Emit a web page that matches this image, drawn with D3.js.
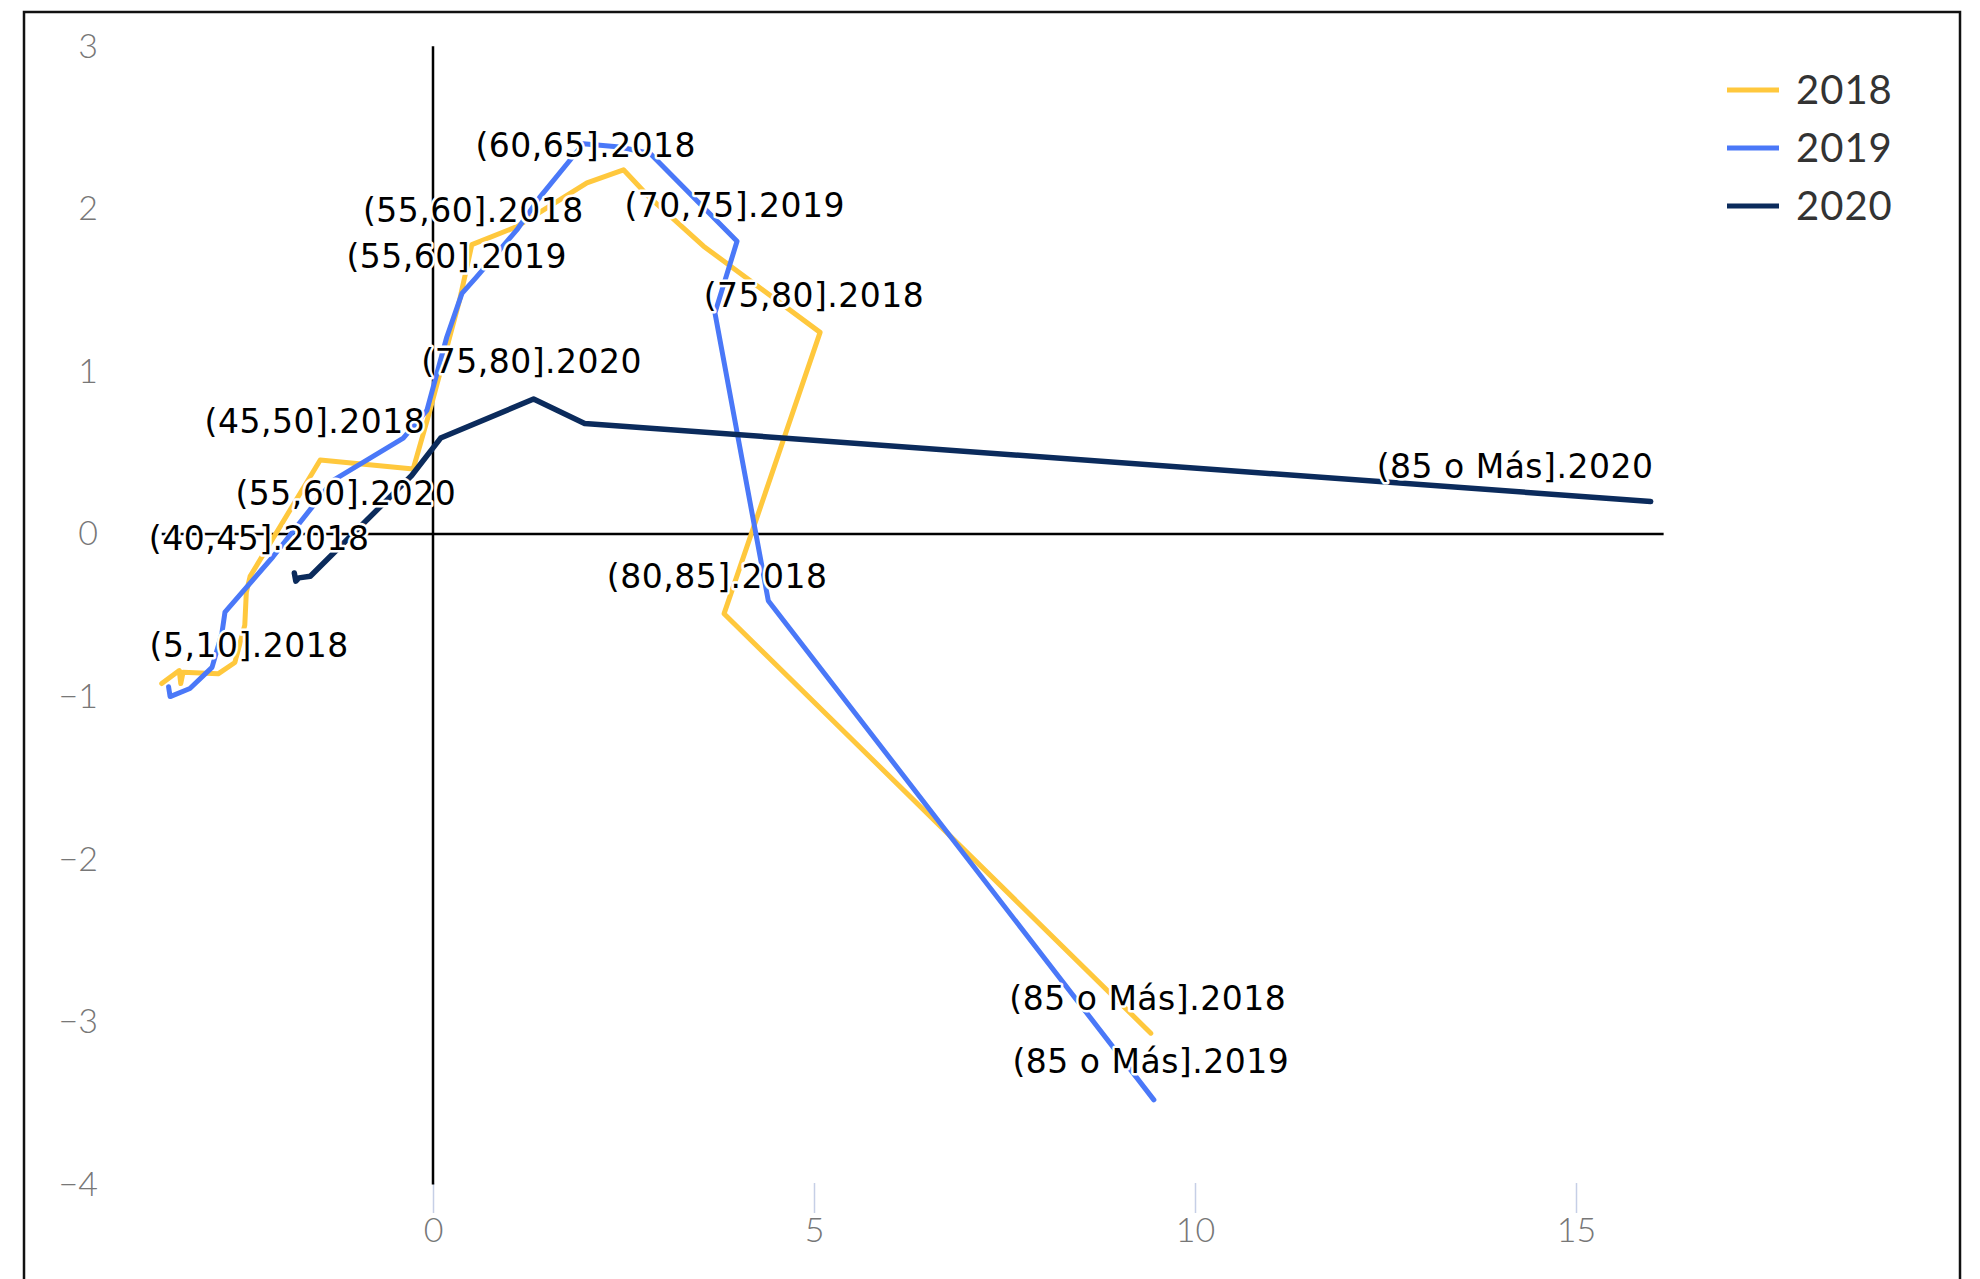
<!DOCTYPE html>
<html>
<head>
<meta charset="utf-8">
<script src="https://cdn.jsdelivr.net/npm/d3@7"></script>
<style>
	body { margin: 0; background: #fff; }
</style>
</head>
<body>
<div id="chart"></div>
<script>

// 系列
var years = ["2018", "2019", "2020"];
var colors = ["#ffc83d", "#4a78f8", "#0b2b5c"];

// 各年の折れ線の頂点 (x, y)
var x2018 = [-3.56, -3.33, -3.31, -3.28, -2.82, -2.60, -2.47, -2.45, -2.40, -1.48, -0.26, -0.04, 0.35, 0.51, 1.10, 2.02, 2.50, 2.82, 3.55, 5.08, 3.82, 9.42];
var y2018 = [-0.92, -0.84, -0.92, -0.85, -0.86, -0.79, -0.56, -0.36, -0.26, 0.455, 0.40, 0.76, 1.44, 1.78, 1.89, 2.16, 2.24, 2.08, 1.77, 1.24, -0.49, -3.07];

var x2019 = [-3.47, -3.45, -3.19, -2.90, -2.77, -2.73, -2.10, -1.31, -0.39, -0.08, 0.18, 0.38, 0.57, 1.10, 1.40, 1.80, 1.97, 2.45, 2.85, 3.99, 3.70, 4.40, 9.46];
var y2019 = [-0.94, -1.00, -0.95, -0.82, -0.61, -0.48, -0.14, 0.33, 0.59, 0.76, 1.21, 1.48, 1.58, 1.87, 2.07, 2.30, 2.40, 2.38, 2.34, 1.80, 1.36, -0.41, -3.48];

var x2020 = [-1.82, -1.80, -1.76, -1.61, -0.28, 0.10, 1.32, 1.99, 15.98];
var y2020 = [-0.24, -0.29, -0.27, -0.26, 0.36, 0.59, 0.83, 0.68, 0.20];

// ラベル (データ座標)
var labelText = ["(60,65].2018", "(55,60].2018", "(55,60].2019", "(75,80].2020", "(70,75].2019",
	"(75,80].2018", "(80,85].2018", "(45,50].2018", "(55,60].2020", "(40,45].2018", "(5,10].2018",
	"(85 o Más].2018", "(85 o Más].2019", "(85 o Más].2020"];
var labelX = [2.005, 0.529, 0.312, 1.295, 3.96, 5.00, 3.73, -1.549, -1.144, -2.281, -2.412, 9.38, 9.42, 14.20];
var labelY = [2.32, 1.92, 1.634, 0.988, 1.95, 1.398, -0.334, 0.619, 0.178, -0.098, -0.755, -2.927, -3.313, 0.345];

// 軸
var xTicks = [0, 5, 10, 15];
var yTicks = [-4, -3, -2, -1, 0, 1, 2, 3];
var zeroLineX = [-3.56, 16.15];
var zeroLineY = [-4, 3];

var W = 1980, H = 1279;

var svg = d3.select("#chart").append("svg")
	.attr("width", W)
	.attr("height", H);

var x = d3.scaleLinear().domain([0, 15]).range([433, 433 + 15 * 76.2]);
var y = d3.scaleLinear().domain([-4, 3]).range([534 + 4 * 162.6, 534 - 3 * 162.6]);

// 枠
svg.append("rect")
	.attr("x", 24)
	.attr("y", 12)
	.attr("width", 1936)
	.attr("height", 1320)
	.style("fill", "none")
	.style("stroke", "#111")
	.style("stroke-width", 2.5);

// y軸
var gy = svg.append("g")
	.attr("transform", "translate(105,0)")
	.call(d3.axisLeft(y).tickValues(yTicks).tickFormat(d3.format("d")).tickSize(0).tickPadding(7));
gy.select(".domain").remove();
gy.selectAll("text")
	.style("font-family", "Lato, 'Open Sans', sans-serif")
	.style("font-weight", 300)
	.style("font-size", "34px")
	.style("fill", "#777");

// x軸
var gx = svg.append("g")
	.attr("transform", "translate(0," + 1183 + ")")
	.call(d3.axisBottom(x).tickValues(xTicks).tickFormat(d3.format("d")).tickSize(30).tickPadding(5));
gx.select(".domain").remove();
gx.selectAll("line")
	.style("stroke", "#c6cfe6")
	.style("stroke-width", 1.5);
gx.selectAll("text")
	.style("font-family", "Lato, 'Open Sans', sans-serif")
	.style("font-weight", 300)
	.style("font-size", "34px")
	.style("fill", "#777");

// ゼロ線
svg.append("line")
	.attr("x1", x(0)).attr("x2", x(0))
	.attr("y1", y(zeroLineY[1])).attr("y2", y(zeroLineY[0]))
	.style("stroke", "#000")
	.style("stroke-width", 2.5);
svg.append("line")
	.attr("x1", x(zeroLineX[0])).attr("x2", x(zeroLineX[1]))
	.attr("y1", y(0)).attr("y2", y(0))
	.style("stroke", "#000")
	.style("stroke-width", 2.5);

// 折れ線
var series = [d3.zip(x2018, y2018), d3.zip(x2019, y2019), d3.zip(x2020, y2020)];
var line = d3.line()
	.x(function(d) { return x(d[0]); })
	.y(function(d) { return y(d[1]); });

svg.selectAll(".serie")
	.data(series)
	.enter().append("path")
	.attr("class", "serie")
	.attr("d", line)
	.style("fill", "none")
	.style("stroke", function(d, i) { return colors[i]; })
	.style("stroke-width", function(d, i) { return i == 2 ? 5.5 : 5; })
	.style("stroke-linejoin", "round")
	.style("stroke-linecap", "round");

// ラベル
svg.selectAll(".lbl")
	.data(labelText)
	.enter().append("text")
	.attr("class", "lbl")
	.attr("x", function(d, i) { return x(labelX[i]); })
	.attr("y", function(d, i) { return y(labelY[i]); })
	.text(function(d) { return d; })
	.style("font-family", "'DejaVu Sans', sans-serif")
	.style("font-size", "33px")
	.style("letter-spacing", "0.5px")
	.style("text-anchor", "middle")
	.style("fill", "#000")
	.style("stroke", "#fff")
	.style("stroke-width", "5px")
	.style("stroke-linejoin", "round")
	.style("paint-order", "stroke");

// 凡例
var legend = svg.selectAll(".legend")
	.data(years)
	.enter().append("g")
	.attr("class", "legend")
	.attr("transform", function(d, i) { return "translate(1727," + (90 + i * 58) + ")"; });

legend.append("line")
	.attr("x1", 0).attr("x2", 52)
	.attr("y1", 0).attr("y2", 0)
	.style("stroke", function(d, i) { return colors[i]; })
	.style("stroke-width", 5);

legend.append("text")
	.attr("x", 69)
	.attr("y", 14)
	.text(function(d) { return d; })
	.style("font-family", "Lato, 'Open Sans', sans-serif")
	.style("font-size", "40px")
	.style("letter-spacing", "1px")
	.style("fill", "#333");

</script>
</body>
</html>
